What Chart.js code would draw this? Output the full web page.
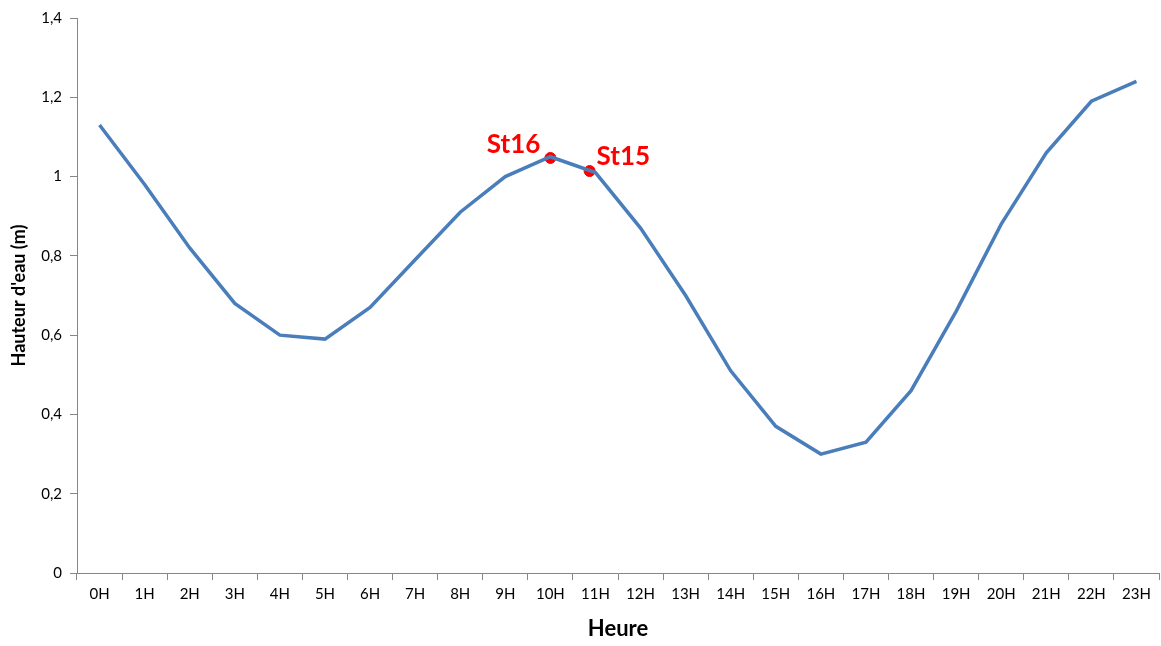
<!DOCTYPE html>
<html>
<head>
<meta charset="utf-8">
<script src="https://cdn.jsdelivr.net/npm/chart.js@4"></script>
<style>
  html, body { margin: 0; padding: 0; background: #fff; overflow: hidden; }
</style>
</head>
<body>
<canvas id="chart" width="1161" height="646"></canvas>
<script>
// hours on the x axis
const hours = ['0H','1H','2H','3H','4H','5H','6H','7H','8H','9H','10H','11H',
  '12H','13H','14H','15H','16H','17H','18H','19H','20H','21H','22H','23H'];
// water height (m)
const waterHeight = [1.13, 0.98, 0.82, 0.68, 0.60, 0.59, 0.67, 0.79, 0.91, 1.00, 1.05, 1.01,
  0.87, 0.70, 0.51, 0.37, 0.30, 0.33, 0.46, 0.66, 0.88, 1.06, 1.19, 1.24];
// station markers (position in hours, height)
const stationNames = ['St16', 'St15'];
const stationHour = [10.0, 10.87];
const stationHeight = [1.047, 1.014];

const axisColor = '#868686';
const font = "Lato, 'Open Sans', sans-serif";

// draws station names next to the red dots
const stationLabels = {
  id: 'stationLabels',
  afterDatasetsDraw(chart) {
    const meta = chart.getDatasetMeta(1);
    const ctx = chart.ctx;
    ctx.save();
    ctx.fillStyle = '#ff0000';
    ctx.font = "bold 26px " + font;
    ctx.textBaseline = 'middle';
    meta.data.forEach((pt, i) => {
      if (i === 0) {
        ctx.textAlign = 'right';
        ctx.fillText(stationNames[i], pt.x - 10, pt.y - 13);
      } else {
        ctx.textAlign = 'left';
        ctx.fillText(stationNames[i], pt.x + 7, pt.y - 14);
      }
    });
    ctx.restore();
  }
};

new Chart(document.getElementById('chart'), {
  type: 'line',
  data: {
    labels: hours,
    datasets: [{
      data: waterHeight,
      borderColor: '#4a7ebb',
      borderWidth: 3.5,
      pointRadius: 0,
      tension: 0,
      xAxisID: 'x'
    }, {
      data: stationHour.map((h, i) => ({ x: h, y: stationHeight[i] })),
      xAxisID: 'x2',
      showLine: false,
      pointRadius: 5.5,
      pointBackgroundColor: '#ff0000',
      pointBorderColor: '#ff0000',
      borderColor: '#ff0000'
    }]
  },
  plugins: [stationLabels],
  options: {
    responsive: false,
    animation: false,
    devicePixelRatio: 1,
    layout: { autoPadding: false, padding: { top: 18, right: 2, left: 0, bottom: 0 } },
    plugins: {
      legend: { display: false },
      tooltip: { enabled: false }
    },
    scales: {
      x: {
        type: 'category',
        offset: true,
        grid: { offset: true, drawOnChartArea: false, drawTicks: true, tickLength: 7, color: axisColor },
        border: { color: axisColor, width: 1 },
        ticks: { color: '#000', font: { family: font, size: 15 }, maxRotation: 0, autoSkip: false, padding: 5 },
        title: { display: true, text: 'Heure', color: '#000', font: { family: font, size: 22, weight: 'bold' }, padding: { top: 15 } },
        afterFit(scale) {
          scale.height = 73;
          scale.paddingLeft = 0;
          scale.paddingRight = 0;
        }
      },
      x2: {
        type: 'linear',
        display: false,
        min: -0.5,
        max: 23.5
      },
      y: {
        min: 0,
        max: 1.4,
        grid: { drawOnChartArea: false, drawTicks: true, tickLength: 7, color: axisColor },
        border: { color: axisColor, width: 1 },
        ticks: {
          stepSize: 0.2,
          color: '#000',
          padding: 8,
          font: { family: font, size: 15 },
          callback: v => String(Number(v.toFixed(1))).replace('.', ',')
        },
        title: { display: true, text: "Hauteur d'eau (m)", color: '#000', font: { family: font, size: 18, weight: 'bold' }, padding: { top: 8, bottom: 4 } },
        afterFit(scale) { scale.width = 77; }
      }
    }
  }
});
</script>
</body>
</html>
